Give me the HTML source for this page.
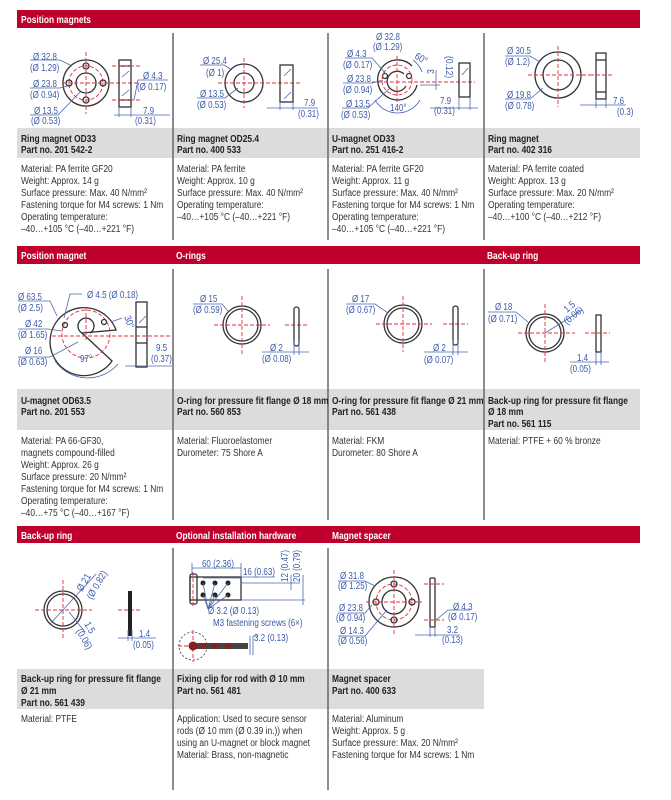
<!DOCTYPE html>
<html><head><meta charset="utf-8"><style>
html,body{margin:0;padding:0;background:#fff;width:671px;height:800px;overflow:hidden}
svg{display:block}
.h{font:bold 10.5px "Liberation Sans",sans-serif;fill:#fff}
.t{font:bold 10.5px "Liberation Sans",sans-serif;fill:#222}
.b{font:10.5px "Liberation Sans",sans-serif;fill:#333}
.d{font:10px "Liberation Sans",sans-serif;fill:#3b5aa8}
text:not([transform]){transform-box:fill-box;transform-origin:0 0;transform:scaleX(.8)}
.k{stroke:#333;fill:none;stroke-width:1.3}
.r{stroke:#e0303a;fill:none;stroke-width:0.9;stroke-dasharray:4 2}
.l{stroke:#4a66b0;fill:none;stroke-width:0.8}
.v{stroke:#666;stroke-width:1.5}
</style></head><body>
<svg width="671" height="800" viewBox="0 0 671 800">
<rect x="17" y="10" width="623" height="18" fill="#c0002c"/>
<rect x="17" y="246" width="623" height="18" fill="#c0002c"/>
<rect x="17" y="526" width="623" height="17" fill="#c0002c"/>
<text class="h" x="21" y="23">Position magnets</text>
<text class="h" x="21" y="259">Position magnet</text>
<text class="h" x="176" y="259">O-rings</text>
<text class="h" x="487" y="259">Back-up ring</text>
<text class="h" x="21" y="539">Back-up ring</text>
<text class="h" x="176" y="539">Optional installation hardware</text>
<text class="h" x="332" y="539">Magnet spacer</text>
<rect x="17" y="128" width="623" height="30" fill="#dcdcdc"/>
<rect x="17" y="389" width="623" height="41" fill="#dcdcdc"/>
<rect x="17" y="669" width="467" height="40" fill="#dcdcdc"/>
<line class="v" x1="173" y1="33" x2="173" y2="240"/><line class="v" x1="328" y1="33" x2="328" y2="240"/><line class="v" x1="484" y1="33" x2="484" y2="240"/>
<line class="v" x1="173" y1="269" x2="173" y2="520"/><line class="v" x1="328" y1="269" x2="328" y2="520"/><line class="v" x1="484" y1="269" x2="484" y2="520"/>
<line class="v" x1="173" y1="548" x2="173" y2="790"/><line class="v" x1="328" y1="548" x2="328" y2="790"/>
<text class="t" x="21" y="142">Ring magnet OD33</text><text class="t" x="21" y="153">Part no. 201 542-2</text>
<text class="t" x="177" y="142">Ring magnet OD25.4</text><text class="t" x="177" y="153">Part no. 400 533</text>
<text class="t" x="332" y="142">U-magnet OD33</text><text class="t" x="332" y="153">Part no. 251 416-2</text>
<text class="t" x="488" y="142">Ring magnet</text><text class="t" x="488" y="153">Part no. 402 316</text>
<g class="b">
<text x="21" y="172">Material: PA ferrite GF20</text><text x="21" y="184">Weight: Approx. 14 g</text><text x="21" y="196">Surface pressure: Max. 40 N/mm²</text><text x="21" y="208">Fastening torque for M4 screws: 1 Nm</text><text x="21" y="220">Operating temperature:</text><text x="21" y="232">–40…+105 °C (–40…+221 °F)</text>
<text x="177" y="172">Material: PA ferrite</text><text x="177" y="184">Weight: Approx. 10 g</text><text x="177" y="196">Surface pressure: Max. 40 N/mm²</text><text x="177" y="208">Operating temperature:</text><text x="177" y="220">–40…+105 °C (–40…+221 °F)</text>
<text x="332" y="172">Material: PA ferrite GF20</text><text x="332" y="184">Weight: Approx. 11 g</text><text x="332" y="196">Surface pressure: Max. 40 N/mm²</text><text x="332" y="208">Fastening torque for M4 screws: 1 Nm</text><text x="332" y="220">Operating temperature:</text><text x="332" y="232">–40…+105 °C (–40…+221 °F)</text>
<text x="488" y="172">Material: PA ferrite coated</text><text x="488" y="184">Weight: Approx. 13 g</text><text x="488" y="196">Surface pressure: Max. 20 N/mm²</text><text x="488" y="208">Operating temperature:</text><text x="488" y="220">–40…+100 °C (–40…+212 °F)</text>
</g>
<text class="t" x="21" y="404">U-magnet OD63.5</text><text class="t" x="21" y="415">Part no. 201 553</text>
<text class="t" x="177" y="404">O-ring for pressure fit flange Ø 18 mm</text><text class="t" x="177" y="415">Part no. 560 853</text>
<text class="t" x="332" y="404">O-ring for pressure fit flange Ø 21 mm</text><text class="t" x="332" y="415">Part no. 561 438</text>
<text class="t" x="488" y="404">Back-up ring for pressure fit flange</text><text class="t" x="488" y="415">Ø 18 mm</text><text class="t" x="488" y="427">Part no. 561 115</text>
<g class="b">
<text x="21" y="444">Material: PA 66-GF30,</text><text x="21" y="456">magnets compound-filled</text><text x="21" y="468">Weight: Approx. 26 g</text><text x="21" y="480">Surface pressure: 20 N/mm²</text><text x="21" y="492">Fastening torque for M4 screws: 1 Nm</text><text x="21" y="504">Operating temperature:</text><text x="21" y="516">–40…+75 °C (–40…+167 °F)</text>
<text x="177" y="444">Material: Fluoroelastomer</text><text x="177" y="456">Durometer: 75 Shore A</text>
<text x="332" y="444">Material: FKM</text><text x="332" y="456">Durometer: 80 Shore A</text>
<text x="488" y="444">Material: PTFE + 60 % bronze</text>
</g>
<text class="t" x="21" y="682">Back-up ring for pressure fit flange</text><text class="t" x="21" y="694">Ø 21 mm</text><text class="t" x="21" y="706">Part no. 561 439</text>
<text class="t" x="177" y="682">Fixing clip for rod with Ø 10 mm</text><text class="t" x="177" y="694">Part no. 561 481</text>
<text class="t" x="332" y="682">Magnet spacer</text><text class="t" x="332" y="694">Part no. 400 633</text>
<g class="b">
<text x="21" y="722">Material: PTFE</text>
<text x="177" y="722">Application: Used to secure sensor</text><text x="177" y="734">rods (Ø 10 mm (Ø 0.39 in.)) when</text><text x="177" y="746">using an U-magnet or block magnet</text><text x="177" y="758">Material: Brass, non-magnetic</text>
<text x="332" y="722">Material: Aluminum</text><text x="332" y="734">Weight: Approx. 5 g</text><text x="332" y="746">Surface pressure: Max. 20 N/mm²</text><text x="332" y="758">Fastening torque for M4 screws: 1 Nm</text>
</g>

<!-- sec1 col1 -->
<circle class="k" cx="86" cy="83" r="23"/><circle class="k" cx="86" cy="83" r="10"/>
<circle class="r" cx="86" cy="83" r="17"/>
<circle class="k" cx="86" cy="66" r="3"/><circle class="k" cx="86" cy="100" r="3"/><circle class="k" cx="69" cy="83" r="3"/><circle class="k" cx="103" cy="83" r="3"/>
<line class="r" x1="86" y1="52" x2="86" y2="114"/><line class="r" x1="62" y1="83" x2="140" y2="83"/>
<rect class="k" x="119" y="60" width="12" height="47"/>
<line class="k" x1="119" y1="66" x2="131" y2="66"/><line class="k" x1="119" y1="100" x2="131" y2="100"/>
<line class="l" x1="122" y1="77" x2="129" y2="71"/><line class="l" x1="122" y1="96" x2="129" y2="90"/>
<line class="r" x1="112" y1="66" x2="140" y2="66"/><line class="r" x1="112" y1="100" x2="140" y2="100"/>
<g class="l"><polyline points="30,60 60,60 72,66"/><polyline points="30,88 60,88 67,86"/><polyline points="30,115 58,115 80,92"/><polyline points="170,115 114,115"/><line x1="119" y1="107" x2="119" y2="117"/><line x1="131" y1="107" x2="131" y2="117"/><polyline points="168,80 138,80 134,100"/></g>
<g class="d"><text x="33" y="60">Ø 32.8</text><text x="30" y="71">(Ø 1.29)</text><text x="33" y="87">Ø 23.8</text><text x="30" y="98">(Ø 0.94)</text><text x="34" y="114">Ø 13.5</text><text x="31" y="124">(Ø 0.53)</text><text x="143" y="79">Ø 4.3</text><text x="137" y="90">(Ø 0.17)</text><text x="143" y="114">7.9</text><text x="135" y="124">(0.31)</text></g>
<!-- col2 -->
<circle class="k" cx="244" cy="83" r="19"/><circle class="k" cx="244" cy="83" r="10"/>
<line class="r" x1="244" y1="58" x2="244" y2="108"/><line class="r" x1="218" y1="83" x2="300" y2="83"/>
<rect class="k" x="280" y="65" width="13" height="37"/>
<line class="l" x1="284" y1="76" x2="291" y2="69"/><line class="l" x1="284" y1="99" x2="291" y2="92"/>
<g class="l"><polyline points="200,65 224,65 232,70"/><polyline points="197,98 225,98 238,88"/><line x1="267" y1="108" x2="318" y2="108"/><line x1="280" y1="102" x2="280" y2="110"/><line x1="293" y1="102" x2="293" y2="110"/></g>
<g class="d"><text x="203" y="64">Ø 25.4</text><text x="206" y="76">(Ø 1)</text><text x="200" y="97">Ø 13.5</text><text x="197" y="108">(Ø 0.53)</text><text x="304" y="106">7.9</text><text x="298" y="117">(0.31)</text></g>
<!-- col3 -->
<path class="k" d="M417,85 A20,20 0 1 1 412,66"/><path class="k" d="M406,86 A10,10 0 1 1 404,74"/>
<circle class="k" cx="385" cy="76" r="2.5"/><circle class="k" cx="409" cy="76" r="2.5"/>
<circle class="r" cx="397" cy="80" r="15"/>
<line class="r" x1="397" y1="56" x2="397" y2="104"/><line class="r" x1="372" y1="82" x2="475" y2="82"/>
<g class="l"><path d="M375,100 A26,26 0 0 0 420,100"/><path d="M413,60 A26,26 0 0 1 422,72"/><polyline points="345,58 372,58 386,74"/><polyline points="343,83 372,83 383,80"/><polyline points="342,108 368,108 390,88"/><line x1="436" y1="70" x2="436" y2="90"/><line x1="440" y1="85" x2="420" y2="85"/></g>
<rect class="k" x="459" y="63" width="11" height="34"/><line class="l" x1="462" y1="75" x2="468" y2="68"/>
<g class="l"><line x1="430" y1="108" x2="478" y2="108"/><line x1="459" y1="97" x2="459" y2="110"/><line x1="470" y1="97" x2="470" y2="110"/></g>
<g class="d"><text x="376" y="40">Ø 32.8</text><text x="373" y="50">(Ø 1.29)</text><text x="347" y="57">Ø 4.3</text><text x="343" y="68">(Ø 0.17)</text><text x="347" y="82">Ø 23.8</text><text x="343" y="93">(Ø 0.94)</text><text x="346" y="107">Ø 13.5</text><text x="341" y="118">(Ø 0.53)</text><text x="390" y="111">140°</text>
<text x="0" y="0" transform="translate(414 58) rotate(30) scale(.85 1)">60°</text><text x="0" y="0" transform="translate(434 74) rotate(-90) scale(.85 1)">3</text><text x="0" y="0" transform="translate(446 56) rotate(90) scale(.85 1)">(0.12)</text>
<text x="440" y="104">7.9</text><text x="434" y="114">(0.31)</text></g>
<!-- col4 -->
<circle class="k" cx="558" cy="75" r="23"/><circle class="k" cx="558" cy="75" r="15"/>
<line class="r" x1="558" y1="46" x2="558" y2="107"/><line class="r" x1="528" y1="75" x2="590" y2="75"/>
<rect class="k" x="596" y="53" width="10" height="46"/><line class="k" x1="596" y1="60" x2="606" y2="60"/><line class="k" x1="596" y1="92" x2="606" y2="92"/>
<line class="r" x1="590" y1="75" x2="612" y2="75"/>
<g class="l"><polyline points="505,56 530,56 540,62"/><polyline points="505,99 530,99 543,88"/><line x1="580" y1="105" x2="626" y2="105"/><line x1="596" y1="99" x2="596" y2="108"/><line x1="606" y1="99" x2="606" y2="108"/></g>
<g class="d"><text x="507" y="54">Ø 30.5</text><text x="505" y="65">(Ø 1.2)</text><text x="507" y="98">Ø 19.8</text><text x="505" y="109">(Ø 0.78)</text><text x="613" y="104">7.6</text><text x="617" y="115">(0.3)</text></g>

<!-- sec2 -->
<path class="k" d="M82,333 L112,361 A34,34 0 1 1 116,330 Z" fill="none"/>
<path class="k" d="M82,333 A8,8 0 1 1 90,333" />
<circle class="r" cx="86" cy="334" r="24"/>
<circle class="k" cx="65" cy="325" r="2.5"/><circle class="k" cx="104" cy="322" r="2.5"/>
<line class="r" x1="86" y1="307" x2="86" y2="340"/><line class="r" x1="52" y1="336" x2="172" y2="336"/>
<rect class="k" x="136" y="302" width="11" height="65"/><line class="k" x1="136" y1="327" x2="147" y2="327"/><line class="k" x1="136" y1="343" x2="147" y2="343"/>
<line class="l" x1="139" y1="323" x2="146" y2="316"/>
<g class="l"><path d="M55,361 A40,40 0 0 0 118,364"/><polyline points="18,301 50,301 57,316"/><polyline points="18,329 48,329 62,331"/><polyline points="18,357 50,357 78,342"/><polyline points="82,294 70,294 64,318"/><path d="M111,322 L122,318"/><line x1="125" y1="366" x2="172" y2="366"/></g>
<g class="d"><text x="18" y="300">Ø 63.5</text><text x="18" y="311">(Ø 2.5)</text><text x="25" y="327">Ø 42</text><text x="18" y="338">(Ø 1.65)</text><text x="25" y="354">Ø 16</text><text x="18" y="365">(Ø 0.63)</text><text x="87" y="298">Ø 4.5 (Ø 0.18)</text><text x="80" y="362">97°</text><text x="0" y="0" transform="translate(124 317) rotate(70) scale(.85 1)">30°</text><text x="156" y="351">9.5</text><text x="151" y="362">(0.37)</text></g>
<!-- o-ring 1 -->
<circle class="k" cx="242" cy="325" r="19"/><circle class="k" cx="242" cy="325" r="16"/>
<line class="r" x1="242" y1="296" x2="242" y2="354"/><line class="r" x1="214" y1="325" x2="270" y2="325"/><line class="r" x1="285" y1="325" x2="308" y2="325"/>
<rect class="k" x="294" y="307" width="5" height="39" rx="2.5"/>
<g class="l"><polyline points="193,304 222,304 228,311"/><line x1="262" y1="352" x2="309" y2="352"/><line x1="294" y1="340" x2="294" y2="355"/><line x1="299" y1="340" x2="299" y2="355"/></g>
<g class="d"><text x="200" y="302">Ø 15</text><text x="193" y="313">(Ø 0.59)</text><text x="270" y="351">Ø 2</text><text x="262" y="362">(Ø 0.08)</text></g>
<!-- o-ring 2 -->
<circle class="k" cx="403" cy="324" r="19"/><circle class="k" cx="403" cy="324" r="16"/>
<line class="r" x1="403" y1="296" x2="403" y2="352"/><line class="r" x1="376" y1="324" x2="432" y2="324"/><line class="r" x1="443" y1="324" x2="468" y2="324"/>
<rect class="k" x="453" y="306" width="5" height="39" rx="2.5"/>
<g class="l"><polyline points="346,304 375,304 388,313"/><line x1="424" y1="352" x2="468" y2="352"/><line x1="453" y1="340" x2="453" y2="355"/><line x1="458" y1="340" x2="458" y2="355"/></g>
<g class="d"><text x="352" y="302">Ø 17</text><text x="346" y="313">(Ø 0.67)</text><text x="433" y="351">Ø 2</text><text x="424" y="363">(Ø 0.07)</text></g>
<!-- back-up 1 -->
<circle class="k" cx="545" cy="333" r="19"/><circle class="k" cx="545" cy="333" r="16"/>
<line class="r" x1="545" y1="304" x2="545" y2="363"/><line class="r" x1="518" y1="333" x2="575" y2="333"/><line class="r" x1="585" y1="333" x2="610" y2="333"/>
<rect class="k" x="596" y="315" width="5" height="37"/>
<g class="l"><polyline points="488,312 516,312 528,322"/><line x1="545" y1="333" x2="582" y2="310"/><line x1="570" y1="362" x2="609" y2="362"/><line x1="596" y1="352" x2="596" y2="365"/><line x1="601" y1="352" x2="601" y2="365"/></g>
<g class="d"><text x="0" y="0" transform="translate(567 313) rotate(-40) scale(.85 1)">1.5</text><text x="0" y="0" transform="translate(567 325) rotate(-40) scale(.85 1)">(0.06)</text><text x="495" y="310">Ø 18</text><text x="488" y="322">(Ø 0.71)</text><text x="577" y="361">1.4</text><text x="570" y="372">(0.05)</text></g>

<!-- sec3 -->
<circle class="k" cx="63" cy="610" r="19"/><circle class="k" cx="63" cy="610" r="16"/>
<line class="r" x1="63" y1="580" x2="63" y2="640"/><line class="r" x1="35" y1="610" x2="92" y2="610"/><line class="r" x1="118" y1="610" x2="142" y2="610"/>
<rect x="128" y="591" width="4" height="45" fill="#222"/>
<g class="l"><line x1="50" y1="624" x2="96" y2="574"/><line x1="69" y1="612" x2="85" y2="632"/><line x1="118" y1="638" x2="156" y2="638"/><line x1="128" y1="630" x2="128" y2="641"/><line x1="132" y1="630" x2="132" y2="641"/></g>
<g class="d"><text x="0" y="0" transform="translate(82 592) rotate(-60) scale(.85 1)">Ø 21</text><text x="0" y="0" transform="translate(92 600) rotate(-60) scale(.85 1)">(Ø 0.82)</text><text x="0" y="0" transform="translate(84 624) rotate(60) scale(.85 1)">1.5</text><text x="0" y="0" transform="translate(76 631) rotate(60) scale(.85 1)">(0.06)</text><text x="139" y="637">1.4</text><text x="133" y="648">(0.05)</text></g>
<!-- fixing clip -->
<rect class="k" x="190" y="577" width="51" height="23"/><rect class="k" x="190" y="574" width="7" height="30" rx="2"/>
<line class="r" x1="193" y1="572" x2="193" y2="606"/>
<g fill="#222"><circle cx="203" cy="583" r="2.5"/><circle cx="215" cy="583" r="2.5"/><circle cx="228" cy="583" r="2.5"/><circle cx="203" cy="595" r="2.5"/><circle cx="215" cy="595" r="2.5"/><circle cx="228" cy="595" r="2.5"/></g>
<g class="l"><line x1="192" y1="568" x2="241" y2="568"/><line x1="192" y1="563" x2="192" y2="575"/><line x1="241" y1="563" x2="241" y2="577"/><line x1="241" y1="577" x2="275" y2="577"/><line x1="203" y1="578" x2="241" y2="578"/><line x1="241" y1="583" x2="300" y2="583"/><line x1="241" y1="600" x2="305" y2="600"/><line x1="291" y1="575" x2="291" y2="590"/><line x1="303" y1="575" x2="303" y2="605"/><polyline points="203,595 208,609"/><polyline points="215,595 208,609 228,595"/><polyline points="203,583 208,609 215,583"/><polyline points="228,583 208,609"/></g>
<circle cx="193" cy="646" r="14" fill="none" stroke="#333" stroke-width="0.8" stroke-dasharray="2 2"/>
<line class="r" x1="193" y1="630" x2="193" y2="662"/><line class="r" x1="178" y1="646" x2="208" y2="646"/>
<rect x="190" y="643" width="58" height="6" fill="#444"/>
<circle cx="193" cy="646" r="4.5" fill="#8b1f1f"/><circle cx="203" cy="646" r="3" fill="#8b1f1f"/><circle cx="215" cy="646" r="3" fill="#8b1f1f"/><circle cx="228" cy="646" r="3" fill="#8b1f1f"/>
<g class="l"><line x1="250" y1="636" x2="250" y2="655"/><line x1="253" y1="636" x2="253" y2="655"/><line x1="253" y1="636" x2="258" y2="636"/></g>
<g class="d"><text x="0" y="0" transform="translate(288 582) rotate(-90) scale(.8 1)">12 (0.47)</text><text x="0" y="0" transform="translate(300 582) rotate(-90) scale(.8 1)">20 (0.79)</text><text x="202" y="567">60 (2.36)</text><text x="243" y="575">16 (0.63)</text><text x="208" y="614">Ø 3.2 (Ø 0.13)</text><text x="213" y="626">M3 fastening screws (6×)</text><text x="254" y="641">3.2 (0.13)</text></g>
<!-- magnet spacer -->
<circle class="k" cx="394" cy="602" r="25"/><circle class="k" cx="394" cy="602" r="12"/>
<circle class="r" cx="394" cy="602" r="18"/>
<circle class="k" cx="394" cy="584" r="3"/><circle class="k" cx="394" cy="620" r="3"/><circle class="k" cx="376" cy="602" r="3"/><circle class="k" cx="412" cy="602" r="3"/>
<line class="r" x1="394" y1="570" x2="394" y2="634"/><line class="r" x1="366" y1="602" x2="422" y2="602"/>
<rect class="k" x="430" y="578" width="5" height="49" rx="1"/>
<line class="r" x1="424" y1="584" x2="444" y2="584"/><line class="r" x1="424" y1="620" x2="444" y2="620"/>
<g class="l"><polyline points="338,581 365,581 375,586"/><polyline points="338,613 365,613 372,605"/><polyline points="338,636 365,636 387,610"/><polyline points="470,610 448,610 436,620"/><line x1="415" y1="635" x2="460" y2="635"/><line x1="430" y1="627" x2="430" y2="637"/><line x1="435" y1="627" x2="435" y2="637"/></g>
<g class="d"><text x="340" y="579">Ø 31.8</text><text x="338" y="589">(Ø 1.25)</text><text x="339" y="611">Ø 23.8</text><text x="336" y="621">(Ø 0.94)</text><text x="340" y="634">Ø 14.3</text><text x="338" y="644">(Ø 0.56)</text><text x="453" y="610">Ø 4.3</text><text x="448" y="620">(Ø 0.17)</text><text x="447" y="633">3.2</text><text x="442" y="643">(0.13)</text></g>
</svg>
</body></html>
